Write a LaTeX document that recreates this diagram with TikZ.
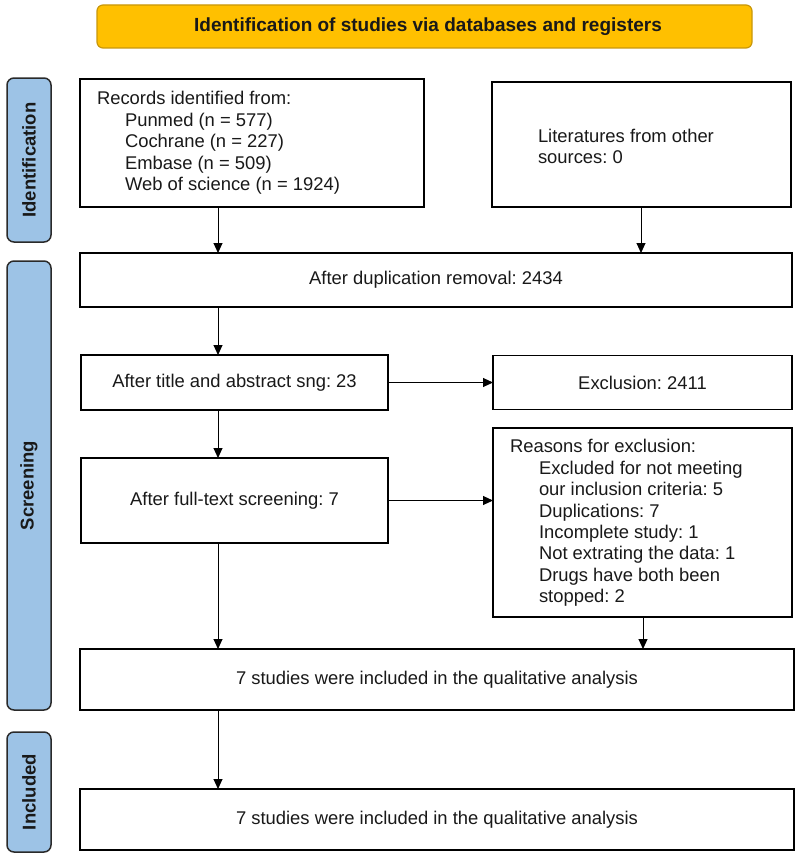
\documentclass[tikz,border=0pt]{standalone}
\usepackage{fontspec}
\setmainfont{Liberation Sans}
\usetikzlibrary{arrows.meta,calc}
\definecolor{bannerfill}{HTML}{FFC000}
\definecolor{bannerdraw}{HTML}{C9970A}
\definecolor{sidefill}{HTML}{9DC3E6}
\definecolor{sidedraw}{HTML}{2A2A2A}
\frenchspacing
\begin{document}
\begin{tikzpicture}[x=1pt,y=-1pt,
  every node/.style={inner sep=0pt, outer sep=0pt},
  boxnode/.style={draw=black, line width=1.5pt, fill=white},
  txt/.style={font=\fontsize{18.4}{21.4}\selectfont\frenchspacing, text=black!90},
  arr/.style={line width=1pt, -{Triangle[length=10pt,width=9pt]}},
  sidebox/.style={draw=sidedraw, fill=sidefill, line width=1.5pt, rounded corners=7pt, minimum width=44pt},
  sidelab/.style={rotate=90, font=\fontsize{18.5}{20}\selectfont\bfseries, text=black!90},
]
\fill[white] (0,0) rectangle (800,859);
\useasboundingbox (0,0) rectangle (800,859);

% banner
\node[draw=bannerdraw, fill=bannerfill, line width=1.2pt, rounded corners=6pt,
      minimum width=655pt, minimum height=43pt] (banner) at (424.5,26.5) {};
\node[font=\fontsize{19}{21}\selectfont\bfseries, text=black!90] (bannerlab) at (428,27) {Identification of studies via databases and registers};

% side labels
\node[sidebox, minimum height=164pt] (idside) at (29,160) {};
\node[sidelab] (idlab) at (idside) {Identification};
\node[sidebox, minimum height=449pt] (scrside) at (29,485.5) {};
\node[sidelab] (scrlab) at (scrside) {Screening};
\node[sidebox, minimum height=120pt] (incside) at (29,792) {};
\node[sidelab] (inclab) at (incside) {Included};

% boxes
\node[boxnode, minimum width=344pt, minimum height=128pt] (records) at (252,143) {};
\node[txt, anchor=west, align=left] (recordstxt) at (97,143) {Records identified from:\\
\hspace*{28pt}Punmed (n = 577)\\
\hspace*{28pt}Cochrane (n = 227)\\
\hspace*{28pt}Embase (n = 509)\\
\hspace*{28pt}Web of science (n = 1924)};

\node[boxnode, minimum width=299pt, minimum height=125pt] (lit) at (641.5,144.5) {};
\node[txt, anchor=west, align=left] (littxt) at (538,146.5) {Literatures from other\\sources: 0};

\node[boxnode, minimum width=712pt, minimum height=54pt] (dup) at (436,280) {};
\node[txt] (duptxt) at (dup) {After duplication removal: 2434};

\node[boxnode, minimum width=307pt, minimum height=55pt] (title) at (234.5,382.5) {};
\node[txt] (titletxt) at (title) {After title and abstract sng: 23};

\node[boxnode, minimum width=299pt, minimum height=54pt] (excl) at (642.5,382.5) {};
\node[txt] (excltxt) at (excl) {Exclusion: 2411};

\node[boxnode, minimum width=307pt, minimum height=85pt] (full) at (234.5,500.5) {};
\node[txt] (fulltxt) at (full) {After full-text screening: 7};

\node[boxnode, minimum width=299pt, minimum height=189pt] (reasons) at (642.5,522.5) {};
\node[txt, anchor=west, align=left] (reasonstxt) at (510,523) {Reasons for exclusion:\\
\hspace*{29pt}Excluded for not meeting\\
\hspace*{29pt}our inclusion criteria: 5\\
\hspace*{29pt}Duplications: 7\\
\hspace*{29pt}Incomplete study: 1\\
\hspace*{29pt}Not extrating the data: 1\\
\hspace*{29pt}Drugs have both been\\
\hspace*{29pt}stopped: 2};

\node[boxnode, minimum width=714pt, minimum height=61pt] (qual1) at (437,679.5) {};
\node[txt] (qual1txt) at (qual1) {7 studies were included in the qualitative analysis};

\node[boxnode, minimum width=714pt, minimum height=61pt] (qual2) at (437,819.5) {};
\node[txt] (qual2txt) at (qual2) {7 studies were included in the qualitative analysis};

% columns
\coordinate (cL) at (218,0);
\coordinate (cR) at (641,0);
\coordinate (cR2) at (643,0);

% connectors
\draw[arr] (records.south -| cL) -- (dup.north -| cL);
\draw[arr] (lit.south -| cR) -- (dup.north -| cR);
\draw[arr] (dup.south -| cL) -- (title.north -| cL);
\draw[arr] (title.east) -- (excl.west |- title.east);
\draw[arr] (title.south -| cL) -- (full.north -| cL);
\draw[arr] (full.east) -- (reasons.west |- full.east);
\draw[arr] (full.south -| cL) -- (qual1.north -| cL);
\draw[arr] (reasons.south -| cR2) -- (qual1.north -| cR2);
\draw[arr] (qual1.south -| cL) -- (qual2.north -| cL);
\end{tikzpicture}
\end{document}
